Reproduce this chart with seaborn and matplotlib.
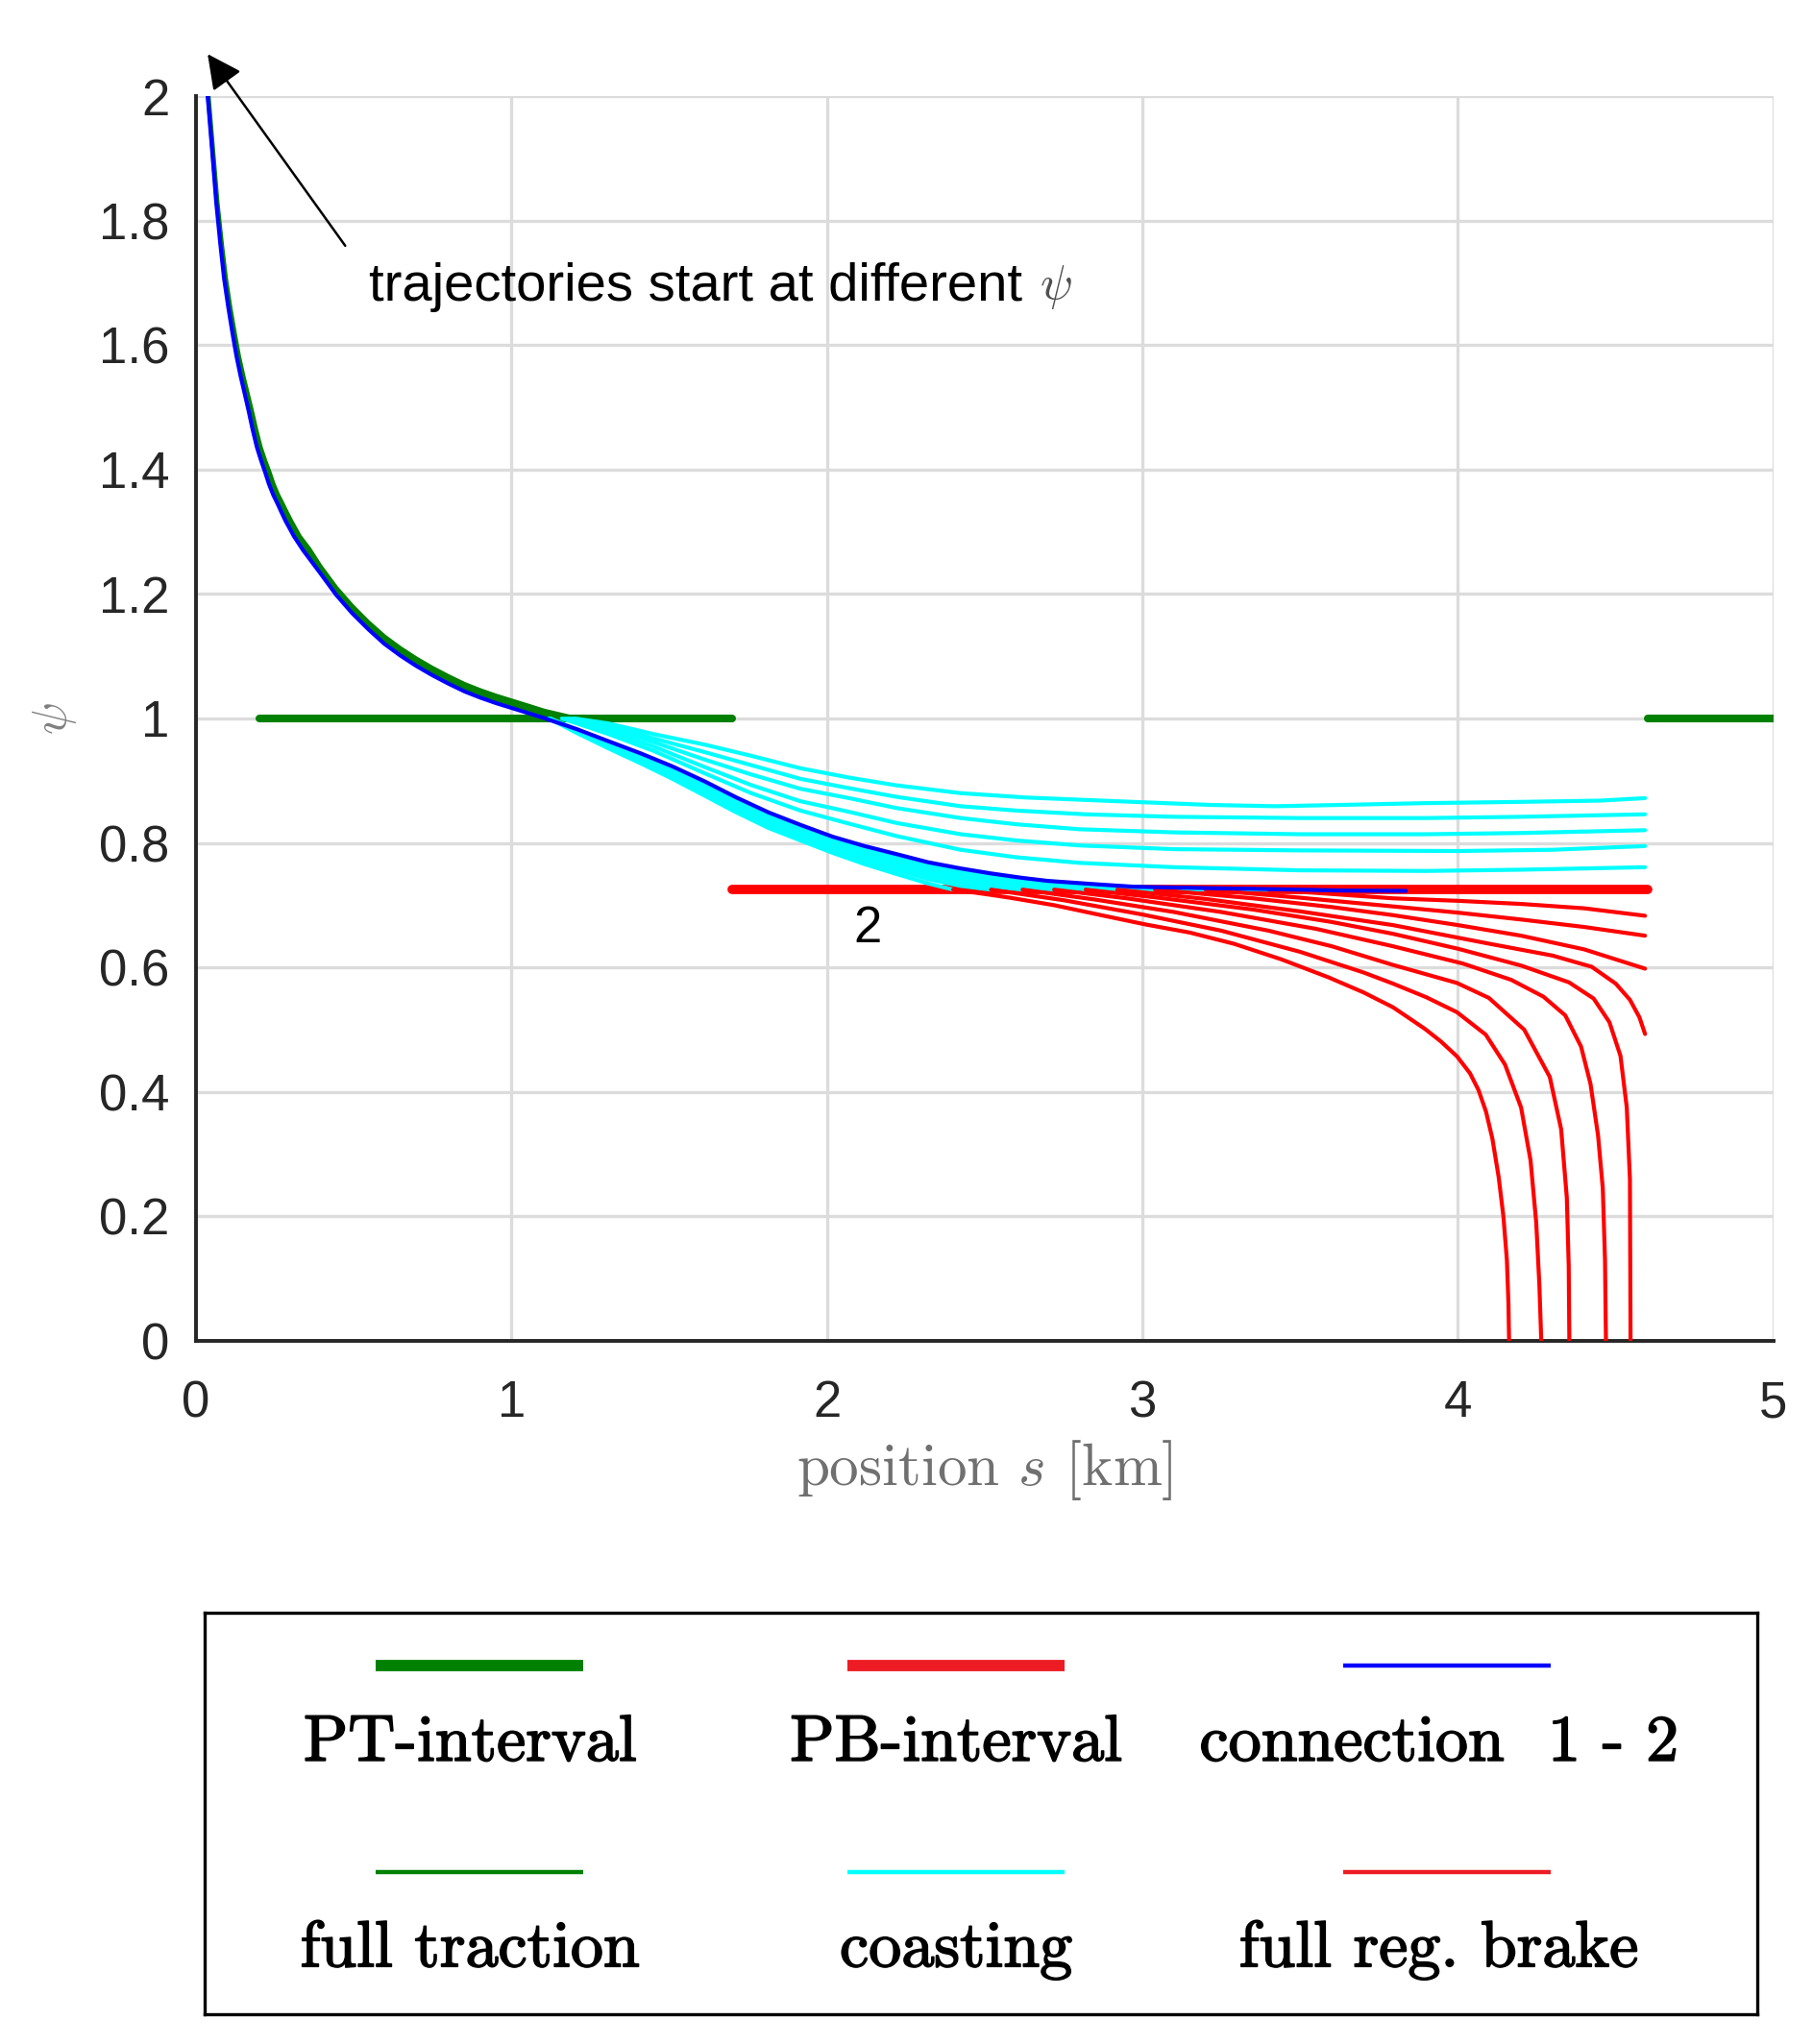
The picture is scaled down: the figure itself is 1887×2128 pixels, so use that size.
import numpy as np
import pandas as pd
import matplotlib
matplotlib.use("Agg")
import matplotlib.pyplot as plt
import matplotlib.patheffects as pe
import seaborn as sns

# ---------------- data: points are (s [km], psi) ----------------
x_ticks = [0, 1, 2, 3, 4, 5]
y_ticks = [0, 0.2, 0.4, 0.6, 0.8, 1.0, 1.2, 1.4, 1.6, 1.8, 2.0]
x_tick_labels = ["0", "1", "2", "3", "4", "5"]
y_tick_labels = ["0", "0.2", "0.4", "0.6", "0.8", "1", "1.2", "1.4", "1.6", "1.8", "2"]

pt_intervals = [[(0.20, 1.0), (1.70, 1.0)], [(4.60, 1.0), (5.00, 1.0)]]
pb_interval = [(1.70, 0.725), (4.60, 0.725)]

# full traction trajectories (they start above psi = 2)
traction_curves = [
    [(0.030, 2.06), (0.040, 2.00), (0.054, 1.915), (0.068, 1.830), (0.082, 1.763), (0.095, 1.707), (0.109, 1.660),
     (0.123, 1.619), (0.136, 1.583), (0.150, 1.551), (0.164, 1.522), (0.177, 1.495), (0.191, 1.464), (0.205, 1.436),
     (0.219, 1.415), (0.233, 1.396), (0.246, 1.3765), (0.260, 1.3596), (0.274, 1.3457), (0.288, 1.3313),
     (0.302, 1.3174), (0.329, 1.2927), (0.360, 1.272), (0.394, 1.245), (0.445, 1.210), (0.495, 1.181),
     (0.546, 1.155), (0.597, 1.132), (0.648, 1.113), (0.698, 1.0965), (0.749, 1.0815), (0.800, 1.068),
     (0.851, 1.0555), (0.901, 1.0455), (0.952, 1.0365), (1.003, 1.0285), (1.054, 1.0205), (1.104, 1.0125),
     (1.200, 1.001)],
    [(0.031, 2.06), (0.038, 2.00), (0.052, 1.915), (0.066, 1.830), (0.080, 1.763), (0.092, 1.707), (0.106, 1.660),
     (0.119, 1.619), (0.132, 1.583), (0.145, 1.551), (0.159, 1.522), (0.172, 1.495), (0.185, 1.464), (0.199, 1.436),
     (0.212, 1.415), (0.226, 1.396), (0.239, 1.3765), (0.252, 1.3596), (0.266, 1.3457), (0.280, 1.3313),
     (0.293, 1.3174), (0.320, 1.2927), (0.350, 1.271), (0.394, 1.240), (0.445, 1.205), (0.495, 1.175),
     (0.546, 1.149), (0.597, 1.126), (0.648, 1.107), (0.698, 1.0905), (0.749, 1.0755), (0.800, 1.062),
     (0.851, 1.0495), (0.901, 1.0395), (0.952, 1.0305), (1.003, 1.0225), (1.054, 1.0145), (1.104, 1.0065),
     (1.160, 1.000)],
]

# connection 1 - 2
connection = [(0.033, 2.06), (0.037, 2.00), (0.0508, 1.915), (0.064, 1.830), (0.077, 1.763), (0.089, 1.707),
              (0.1026, 1.660), (0.1157, 1.619), (0.128, 1.583), (0.141, 1.551), (0.1543, 1.522), (0.1665, 1.495),
              (0.1797, 1.464), (0.193, 1.436), (0.206, 1.415), (0.219, 1.396), (0.2314, 1.3765), (0.2446, 1.3596),
              (0.258, 1.3457), (0.271, 1.3313), (0.284, 1.3174), (0.3106, 1.2927), (0.340, 1.270), (0.394, 1.2335),
              (0.4446, 1.1985), (0.4954, 1.169), (0.546, 1.1435), (0.597, 1.120), (0.648, 1.101), (0.698, 1.0845),
              (0.749, 1.0695), (0.800, 1.056), (0.851, 1.0435), (0.901, 1.0335), (0.952, 1.0245), (1.003, 1.0165),
              (1.054, 1.0085), (1.104, 1.0005), (1.206, 0.9830), (1.307, 0.9635), (1.409, 0.944), (1.510, 0.923),
              (1.612, 0.899), (1.713, 0.873), (1.815, 0.849), (1.916, 0.829), (2.018, 0.810), (2.119, 0.795),
              (2.221, 0.782), (2.320, 0.769), (2.424, 0.759), (2.520, 0.751), (2.617, 0.744), (2.700, 0.739),
              (2.870, 0.7330), (2.977, 0.7295), (3.200, 0.7275), (3.440, 0.7255), (3.640, 0.7235), (3.835, 0.7230)]

# coasting trajectories staying above the PB level
coast_upper = [
    [(1.20, 1.000), (1.307, 0.992), (1.45, 0.975), (1.612, 0.958), (1.76, 0.940), (1.916, 0.920), (2.07, 0.905),
     (2.221, 0.8925), (2.424, 0.880), (2.63, 0.873), (2.97, 0.866), (3.22, 0.861), (3.42, 0.859), (3.62, 0.861),
     (3.90, 0.864), (4.20, 0.866), (4.45, 0.868), (4.593, 0.872)],
    [(1.19, 1.000), (1.307, 0.989), (1.45, 0.968), (1.612, 0.946), (1.76, 0.925), (1.916, 0.903), (2.07, 0.888),
     (2.221, 0.874), (2.424, 0.859), (2.60, 0.852), (2.82, 0.846), (3.10, 0.842), (3.50, 0.840), (3.90, 0.840),
     (4.20, 0.842), (4.593, 0.846)],
    [(1.18, 1.000), (1.307, 0.985), (1.45, 0.962), (1.612, 0.934), (1.76, 0.910), (1.916, 0.887), (2.07, 0.872),
     (2.221, 0.856), (2.424, 0.840), (2.60, 0.830), (2.80, 0.822), (3.10, 0.817), (3.50, 0.814), (3.90, 0.814),
     (4.20, 0.816), (4.593, 0.8205)],
    [(1.17, 1.000), (1.307, 0.980), (1.45, 0.955), (1.612, 0.922), (1.76, 0.893), (1.916, 0.867), (2.07, 0.850),
     (2.221, 0.832), (2.424, 0.814), (2.60, 0.804), (2.80, 0.796), (3.10, 0.790), (3.50, 0.788), (4.00, 0.787),
     (4.30, 0.789), (4.593, 0.795)],
    [(1.16, 1.000), (1.307, 0.975), (1.45, 0.948), (1.612, 0.912), (1.76, 0.880), (1.916, 0.852), (2.07, 0.831),
     (2.221, 0.811), (2.424, 0.789), (2.60, 0.777), (2.80, 0.768), (3.10, 0.761), (3.50, 0.756), (3.90, 0.755),
     (4.20, 0.757), (4.593, 0.761)],
]

# coasting trajectories that run down onto the PB level
coast_lower = [
    [(1.12, 1.0), (1.206, 0.977), (1.307, 0.952), (1.409, 0.928), (1.51, 0.903), (1.612, 0.876), (1.713, 0.849),
     (1.815, 0.824), (1.916, 0.804), (2.018, 0.784), (2.119, 0.766), (2.221, 0.750), (2.32, 0.735), (2.40, 0.725)],
    [(1.12, 1.0), (1.206, 0.978), (1.307, 0.954), (1.409, 0.931), (1.51, 0.906), (1.612, 0.880), (1.713, 0.853),
     (1.815, 0.828), (1.916, 0.808), (2.018, 0.789), (2.119, 0.772), (2.221, 0.756), (2.32, 0.742), (2.424, 0.731), (2.52, 0.725)],
    [(1.12, 1.0), (1.206, 0.979), (1.307, 0.956), (1.409, 0.934), (1.51, 0.909), (1.612, 0.884), (1.713, 0.857),
     (1.815, 0.832), (1.916, 0.812), (2.018, 0.794), (2.119, 0.777), (2.221, 0.761), (2.32, 0.748), (2.424, 0.737), (2.52, 0.730), (2.62, 0.725)],
    [(1.12, 1.0), (1.206, 0.980), (1.307, 0.958), (1.409, 0.937), (1.51, 0.913), (1.612, 0.888), (1.713, 0.861),
     (1.815, 0.836), (1.916, 0.816), (2.018, 0.798), (2.119, 0.781), (2.221, 0.766), (2.32, 0.753), (2.424, 0.742), (2.60, 0.730), (2.72, 0.725)],
    [(1.12, 1.0), (1.206, 0.981), (1.307, 0.960), (1.409, 0.940), (1.51, 0.917), (1.612, 0.892), (1.713, 0.866),
     (1.815, 0.840), (1.916, 0.820), (2.018, 0.802), (2.119, 0.786), (2.221, 0.771), (2.32, 0.758), (2.424, 0.747), (2.60, 0.734), (2.82, 0.725)],
    [(1.12, 1.0), (1.206, 0.981), (1.307, 0.961), (1.409, 0.941), (1.51, 0.919), (1.612, 0.895), (1.713, 0.869),
     (1.815, 0.843), (1.916, 0.823), (2.018, 0.805), (2.119, 0.789), (2.221, 0.775), (2.32, 0.762), (2.424, 0.751), (2.62, 0.737), (2.78, 0.729), (2.92, 0.725)],
    [(1.12, 1.0), (1.206, 0.982), (1.307, 0.962), (1.409, 0.942), (1.51, 0.920), (1.612, 0.896), (1.713, 0.870),
     (1.815, 0.845), (1.916, 0.825), (2.018, 0.806), (2.119, 0.791), (2.221, 0.777), (2.32, 0.765), (2.424, 0.754), (2.62, 0.739), (2.80, 0.730), (3.04, 0.725)],
    [(1.12, 1.0), (1.206, 0.982), (1.307, 0.962), (1.409, 0.942), (1.51, 0.921), (1.612, 0.897), (1.713, 0.871),
     (1.815, 0.846), (1.916, 0.826), (2.018, 0.807), (2.119, 0.792), (2.221, 0.779), (2.32, 0.766), (2.424, 0.756), (2.62, 0.741), (2.87, 0.730), (3.20, 0.725)],
    [(1.12, 1.0), (1.206, 0.982), (1.307, 0.963), (1.409, 0.943), (1.51, 0.922), (1.612, 0.898), (1.713, 0.872),
     (1.815, 0.847), (1.916, 0.827), (2.018, 0.808), (2.119, 0.793), (2.221, 0.780), (2.32, 0.767), (2.424, 0.757), (2.62, 0.742), (2.87, 0.731), (3.10, 0.727), (3.40, 0.725)],
]

# full regenerative braking trajectories
brake_curves = [
    [(2.40, 0.725), (2.50, 0.718), (2.58, 0.712), (2.72, 0.700), (2.85, 0.686), (3.01, 0.669), (3.15, 0.656),
     (3.29, 0.638), (3.44, 0.613), (3.59, 0.584), (3.70, 0.560), (3.794, 0.536), (3.835, 0.522), (3.896, 0.501),
     (3.946, 0.481), (3.997, 0.457), (4.038, 0.430), (4.065, 0.403), (4.089, 0.368), (4.109, 0.325), (4.129, 0.263),
     (4.144, 0.200), (4.155, 0.130), (4.160, 0.060), (4.162, 0.0)],
    [(2.52, 0.725), (2.75, 0.708), (3.00, 0.685), (3.25, 0.659), (3.50, 0.625), (3.70, 0.592), (3.794, 0.574),
     (3.90, 0.552), (3.997, 0.528), (4.088, 0.492), (4.149, 0.444), (4.20, 0.375), (4.23, 0.290), (4.248, 0.190),
     (4.258, 0.090), (4.264, 0.0)],
    [(2.62, 0.725), (2.85, 0.709), (3.10, 0.689), (3.40, 0.659), (3.60, 0.634), (3.794, 0.604), (3.997, 0.575),
     (4.098, 0.551), (4.21, 0.500), (4.291, 0.424), (4.327, 0.340), (4.345, 0.230), (4.351, 0.120), (4.353, 0.0)],
    [(2.72, 0.725), (2.95, 0.711), (3.25, 0.689), (3.55, 0.662), (3.794, 0.634), (4.017, 0.606), (4.169, 0.580),
     (4.271, 0.553), (4.34, 0.523), (4.39, 0.473), (4.42, 0.413), (4.444, 0.330), (4.459, 0.245), (4.466, 0.130),
     (4.469, 0.0)],
    [(2.82, 0.725), (3.05, 0.712), (3.35, 0.693), (3.60, 0.673), (3.794, 0.654), (4.00, 0.630), (4.20, 0.603),
     (4.352, 0.576), (4.43, 0.550), (4.48, 0.512), (4.515, 0.458), (4.535, 0.375), (4.545, 0.260), (4.547, 0.0)],
    [(2.92, 0.725), (3.20, 0.710), (3.50, 0.690), (3.794, 0.668), (4.10, 0.638), (4.30, 0.619), (4.424, 0.601),
     (4.50, 0.574), (4.545, 0.548), (4.575, 0.520), (4.593, 0.493)],
    [(3.04, 0.725), (3.35, 0.711), (3.60, 0.697), (3.794, 0.684), (4.00, 0.668), (4.20, 0.651), (4.40, 0.629),
     (4.593, 0.598)],
    [(3.20, 0.725), (3.50, 0.712), (3.794, 0.698), (4.00, 0.688), (4.20, 0.677), (4.40, 0.665), (4.593, 0.651)],
    [(3.40, 0.725), (3.60, 0.718), (3.794, 0.711), (4.00, 0.707), (4.20, 0.702), (4.40, 0.695), (4.593, 0.683)],
]

legend_labels = ["PT-interval", "PB-interval", "connection  1 - 2",
                 "full traction", "coasting", "full reg. brake"]


def to_frame(curves):
    rows = []
    for i, pts in enumerate(curves):
        for s, p in pts:
            rows.append((i, s, p))
    return pd.DataFrame(rows, columns=["curve", "s", "psi"])


sns.set_theme(style="white")
plt.rcParams["font.family"] = ["Liberation Sans", "DejaVu Sans"]
plt.rcParams["mathtext.fontset"] = "cm"

GREEN, RED, BLUE, CYAN = "#008000", "#ff0000", "#0000ff", "#00ffff"
DARK = "#262626"

fig = plt.figure(figsize=(18.87, 21.28), dpi=100)
ax = fig.add_axes([0.1081, 0.3440, 0.8701, 0.6090])


def draw(curves, color, lw, z):
    sns.lineplot(data=to_frame(curves), x="s", y="psi", units="curve", estimator=None,
                 sort=False, color=color, lw=lw, ax=ax, legend=False, zorder=z)


draw(pt_intervals, GREEN, 5.8, 2)
draw([pb_interval], RED, 7.0, 2)
draw(traction_curves, GREEN, 3.0, 3)
draw(coast_upper + coast_lower, CYAN, 3.0, 3)
draw(brake_curves, RED, 3.0, 3)
draw([connection], BLUE, 3.0, 4)

ax.set_xlim(0, 5)
ax.set_ylim(0, 2)
ax.set_xticks(x_ticks)
ax.set_xticklabels(x_tick_labels)
ax.set_yticks(y_ticks)
ax.set_yticklabels(y_tick_labels)
ax.grid(True, color="#dcdcdc", lw=2.4)
ax.set_axisbelow(True)
for side in ["top", "right"]:
    ax.spines[side].set_visible(False)
for side in ["left", "bottom"]:
    ax.spines[side].set_color(DARK)
    ax.spines[side].set_linewidth(2.8)
ax.tick_params(axis="both", direction="in", length=9, width=2.5, colors=DARK, labelsize=38)
ax.tick_params(axis="x", pad=29)
ax.tick_params(axis="y", pad=20)

ax.set_xlabel(r"position $s$ [km]", fontsize=44, color="#707070", family="cmr10")
ax.xaxis.set_label_coords(0.5, -0.104)
ax.xaxis.label.set_va("center")
ax.set_ylabel(r"$\psi$", fontsize=36, color="#808080")
ax.yaxis.set_label_coords(-0.0895, 0.5)
ax.yaxis.label.set_va("center")

ax.annotate("", xy=(0.032, 2.071), xytext=(0.478, 1.756),
            arrowprops=dict(arrowstyle="-|>", color="black", lw=1.8, mutation_scale=55),
            annotation_clip=False)
ax.text(0.549, 1.693, "trajectories start at different", fontsize=40.5,
        color="black", va="center", ha="left")
ax.text(2.674, 1.693, r"$\psi$", fontsize=36, color="#505050", va="center", ha="left")
ax.text(2.128, 0.6626, "2", fontsize=38, color="black", ha="center", va="center")

# legend box: samples above labels, 3 columns x 2 rows
lax = fig.add_axes([0.1129, 0.01457, 0.8564, 0.1964])
lax.set_xlim(0, 1)
lax.set_ylim(0, 1)
lax.set_xticks([])
lax.set_yticks([])
for sp in lax.spines.values():
    sp.set_color("black")
    sp.set_linewidth(2.4)
lax.set_facecolor("white")

sample_x = [(0.110, 0.244), (0.414, 0.554), (0.733, 0.867)]
label_x = [0.171, 0.484, 0.795]
sample_styles = [(GREEN, 8.5), ("#ed1c24", 8.5), (BLUE, 3.2),
                 (GREEN, 3.2), (CYAN, 3.2), ("#ed1c24", 3.2)]
row_sample_y = [0.869, 0.353]
row_label_y = [0.632, 0.119]
for k, label in enumerate(legend_labels):
    r, c = divmod(k, 3)
    color, lw = sample_styles[k]
    lax.plot(sample_x[c], [row_sample_y[r]] * 2, color=color, lw=lw, solid_capstyle="butt")
    lax.text(label_x[c], row_label_y[r], label, fontsize=49, family="cmr10",
             ha="center", va="baseline", color="black",
             path_effects=[pe.withStroke(linewidth=1.2, foreground="black")])

fig.savefig("out.png", dpi=100)
